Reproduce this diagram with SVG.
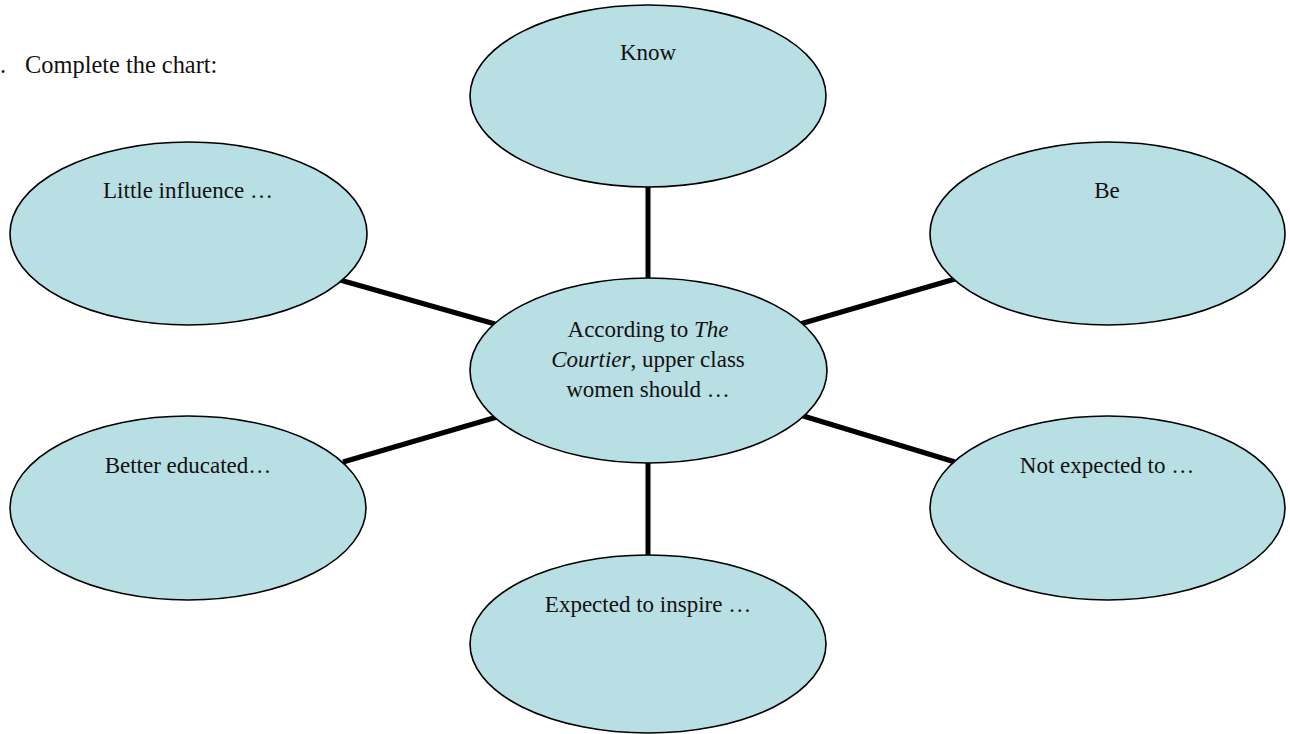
<svg xmlns="http://www.w3.org/2000/svg" width="1290" height="734" viewBox="0 0 1290 734">
<style>
.node{fill:#B8DFE3;stroke:#000;stroke-width:1.6}
.lbl{font-family:"Liberation Serif","Times New Roman",serif;font-size:23px;fill:#111;text-anchor:middle}
.title{font-family:"Liberation Serif","Times New Roman",serif;font-size:24.4px;fill:#111}
.conn{stroke:#000;stroke-width:5;fill:none}
</style>
<rect width="1290" height="734" fill="#fff"/>
<text class="title" x="0" y="73">.<tspan x="25">Complete the chart:</tspan></text>
<g id="connectors">
<line class="conn" x1="648" y1="187" x2="648" y2="279"/>
<line class="conn" x1="648" y1="462" x2="648" y2="556"/>
<line class="conn" x1="340" y1="280" x2="495" y2="324"/>
<line class="conn" x1="343" y1="462" x2="497" y2="417"/>
<line class="conn" x1="800" y1="324" x2="955" y2="279"/>
<line class="conn" x1="800" y1="415" x2="955" y2="462"/>
</g>
<g id="node-know">
<ellipse class="node" cx="648" cy="96" rx="178" ry="91"/>
<text class="lbl" x="648" y="60">Know</text>
</g>
<g id="node-little">
<ellipse class="node" cx="188.5" cy="233.5" rx="178.5" ry="91.5"/>
<text class="lbl" x="188" y="198">Little influence …</text>
</g>
<g id="node-be">
<ellipse class="node" cx="1107.5" cy="233.5" rx="177.5" ry="91.5"/>
<text class="lbl" x="1107" y="198">Be</text>
</g>
<g id="node-center">
<ellipse class="node" cx="648.5" cy="370.5" rx="178.5" ry="92.5"/>
<text class="lbl" x="648" y="337">According to <tspan font-style="italic">The</tspan></text>
<text class="lbl" x="648" y="367"><tspan font-style="italic">Courtier</tspan>, upper class</text>
<text class="lbl" x="648" y="397">women should …</text>
</g>
<g id="node-better">
<ellipse class="node" cx="188" cy="508" rx="178" ry="92"/>
<text class="lbl" x="188" y="473">Better educated…</text>
</g>
<g id="node-notexpected">
<ellipse class="node" cx="1107.5" cy="508" rx="177.5" ry="92"/>
<text class="lbl" x="1107" y="473">Not expected to …</text>
</g>
<g id="node-inspire">
<ellipse class="node" cx="648" cy="644" rx="178" ry="89"/>
<text class="lbl" x="648" y="612">Expected to inspire …</text>
</g>
</svg>
